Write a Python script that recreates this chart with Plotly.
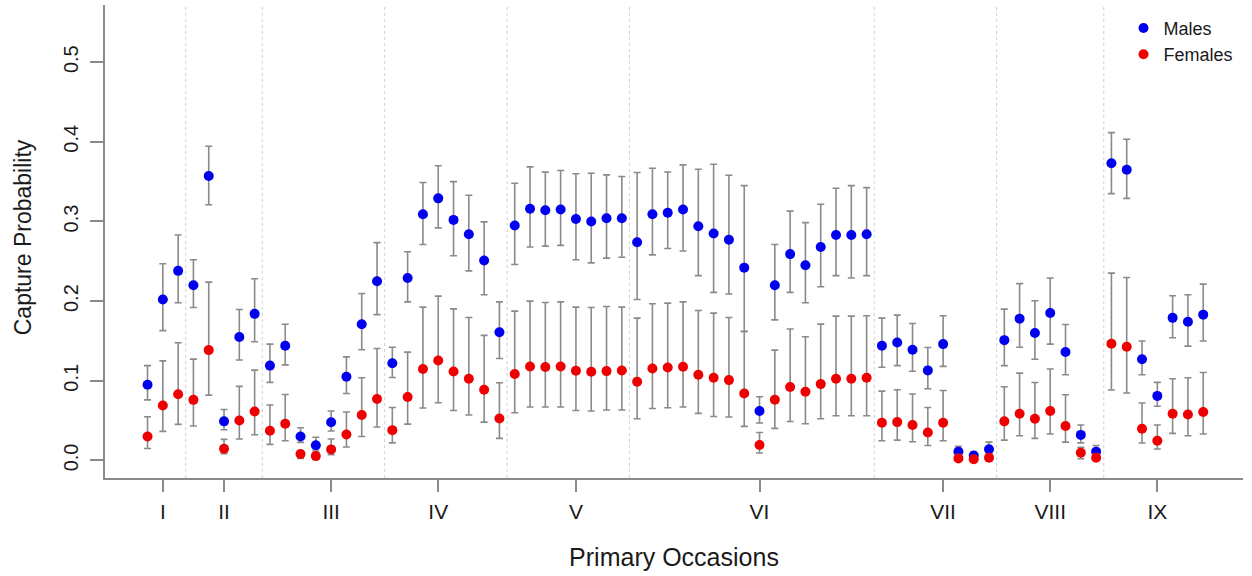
import numpy as np
import plotly.graph_objects as go

# ---- data ----
group_labels = ["I", "II", "III", "IV", "V", "VI", "VII", "VIII", "IX"]
group_sizes = [3, 5, 8, 8, 8, 16, 8, 7, 7]
tick_at = [2, 6, 13, 20, 29, 41, 53, 60, 67]   # secondary occasion index under each label

male = [0.095, 0.202, 0.238,
        0.220, 0.357, 0.049, 0.155, 0.184,
        0.119, 0.144, 0.030, 0.019, 0.048, 0.105, 0.171, 0.225,
        0.122, 0.229, 0.309, 0.329, 0.302, 0.284, 0.251, 0.161,
        0.295, 0.316, 0.314, 0.315, 0.303, 0.300, 0.304, 0.304,
        0.274, 0.309, 0.311, 0.315, 0.294, 0.285, 0.277, 0.242, 0.062, 0.220, 0.259, 0.245, 0.268, 0.283, 0.283, 0.284,
        0.144, 0.148, 0.139, 0.113, 0.146, 0.011, 0.006, 0.014,
        0.151, 0.178, 0.160, 0.185, 0.136, 0.032, 0.011,
        0.373, 0.365, 0.127, 0.081, 0.179, 0.174, 0.183]
male_lo = [0.076, 0.163, 0.198,
           0.192, 0.321, 0.0385, 0.126, 0.149,
           0.098, 0.120, 0.0226, 0.013, 0.037, 0.084, 0.139, 0.183,
           0.104, 0.199, 0.271, 0.292, 0.257, 0.238, 0.208, 0.128,
           0.246, 0.268, 0.269, 0.270, 0.252, 0.248, 0.254, 0.255,
           0.202, 0.258, 0.266, 0.263, 0.232, 0.211, 0.209, 0.162, 0.047, 0.1765, 0.211, 0.198, 0.218, 0.232, 0.229, 0.232,
           0.117, 0.119, 0.112, 0.090, 0.118, 0.006, 0.003, 0.0084,
           0.119, 0.142, 0.127, 0.146, 0.1075, 0.022, 0.006,
           0.335, 0.329, 0.1075, 0.068, 0.154, 0.1435, 0.150]
male_hi = [0.119, 0.247, 0.283,
           0.252, 0.3945, 0.064, 0.1895, 0.228,
           0.146, 0.171, 0.041, 0.029, 0.062, 0.130, 0.2095, 0.2735,
           0.142, 0.262, 0.349, 0.370, 0.350, 0.333, 0.2995, 0.199,
           0.348, 0.3685, 0.362, 0.364, 0.360, 0.3606, 0.3585, 0.3564,
           0.3614, 0.3669, 0.3622, 0.371, 0.3656, 0.3719, 0.3581, 0.345, 0.080, 0.271, 0.313, 0.2986, 0.3217, 0.3418, 0.345, 0.3425,
           0.1787, 0.1824, 0.1719, 0.1418, 0.1816, 0.0176, 0.0105, 0.023,
           0.190, 0.222, 0.2004, 0.229, 0.1707, 0.0444, 0.0188,
           0.4115, 0.4033, 0.150, 0.098, 0.2067, 0.2079, 0.2213]

female = [0.030, 0.069, 0.083,
          0.076, 0.1385, 0.0147, 0.050, 0.0615,
          0.0373, 0.046, 0.008, 0.0055, 0.0138, 0.0326, 0.057, 0.077,
          0.038, 0.0795, 0.1147, 0.1255, 0.1117, 0.1025, 0.0887, 0.0527,
          0.1084, 0.118, 0.1172, 0.118, 0.1125, 0.1113, 0.1121, 0.1129,
          0.0987, 0.1154, 0.1167, 0.1176, 0.1075, 0.1038, 0.1008, 0.0841, 0.0193, 0.0762, 0.0921, 0.0862, 0.0958, 0.1025, 0.1025, 0.1038,
          0.0473, 0.0481, 0.0444, 0.0351, 0.0473, 0.0025, 0.0015, 0.0034,
          0.049, 0.0586, 0.0523, 0.062, 0.0431, 0.0096, 0.0034,
          0.1464, 0.1427, 0.0398, 0.0247, 0.0586, 0.0577, 0.0607]
female_lo = [0.015, 0.0364, 0.0452,
             0.0431, 0.082, 0.0084, 0.0268, 0.0322,
             0.0201, 0.0247, 0.0025, 0.001, 0.0072, 0.0168, 0.0301, 0.0419,
             0.022, 0.0456, 0.0657, 0.0724, 0.0627, 0.057, 0.0481, 0.0276,
             0.0598, 0.067, 0.067, 0.067, 0.0627, 0.062, 0.0632, 0.0632,
             0.0523, 0.0652, 0.0661, 0.067, 0.059, 0.0552, 0.0544, 0.0427, 0.0093, 0.0402, 0.0489, 0.046, 0.0523, 0.056, 0.056, 0.056,
             0.0247, 0.0255, 0.0234, 0.0188, 0.0247, 0.0008, 0.0004, 0.001,
             0.0255, 0.031, 0.0276, 0.0331, 0.023, 0.0021, 0.001,
             0.0883, 0.0846, 0.0218, 0.0143, 0.0339, 0.031, 0.0331]
female_hi = [0.0548, 0.125, 0.1477,
             0.1272, 0.2238, 0.0264, 0.0929, 0.1134,
             0.0695, 0.0828, 0.012, 0.0104, 0.0268, 0.0607, 0.1038, 0.1405,
             0.0665, 0.136, 0.1925, 0.2063, 0.1903, 0.1794, 0.157, 0.0975,
             0.1874, 0.200, 0.1983, 0.1991, 0.1925, 0.192, 0.1932, 0.1925,
             0.1787, 0.1966, 0.1975, 0.1991, 0.1882, 0.1849, 0.1794, 0.1619, 0.0351, 0.1385, 0.1649, 0.1552, 0.1711, 0.1812, 0.1812, 0.1816,
             0.087, 0.0887, 0.0833, 0.0665, 0.0878, 0.0075, 0.005, 0.0084,
             0.0925, 0.1096, 0.0979, 0.1147, 0.0824, 0.0163, 0.0084,
             0.2351, 0.2296, 0.072, 0.0444, 0.1025, 0.1038, 0.1104]

# ---- figure ----
n = len(male)
x = np.arange(1, n + 1)
m, f = np.array(male), np.array(female)
FONT = "Liberation Sans, Arial, Helvetica, sans-serif"
TXT = "#1a1a1a"
GREY = "#8a8a8a"

fig = go.Figure()
fig.add_trace(go.Scatter(
    x=x, y=m, mode="markers", name="Males",
    marker=dict(color="#0000ee", size=10),
    error_y=dict(type="data", symmetric=False,
                 array=np.array(male_hi) - m, arrayminus=m - np.array(male_lo),
                 color=GREY, thickness=1.6, width=3.5)))
fig.add_trace(go.Scatter(
    x=x, y=f, mode="markers", name="Females",
    marker=dict(color="#ee0000", size=10),
    error_y=dict(type="data", symmetric=False,
                 array=np.array(female_hi) - f, arrayminus=f - np.array(female_lo),
                 color=GREY, thickness=1.6, width=3.5)))

# dotted dividers between primary occasions
bounds = np.cumsum(group_sizes)[:-1] + 0.5
for b in bounds:
    fig.add_shape(type="line", xref="x", yref="paper", x0=b, x1=b, y0=0, y1=1,
                  line=dict(color="#cfcfcf", width=1, dash="dot"), layer="below")

fig.update_layout(
    width=1252, height=576,
    margin=dict(l=105, r=9, t=5, b=98),
    paper_bgcolor="white", plot_bgcolor="white",
    font=dict(family=FONT, color=TXT),
    showlegend=True,
    legend=dict(x=0.895, y=0.99, xanchor="left", yanchor="top",
                font=dict(size=18, color=TXT), bgcolor="rgba(0,0,0,0)",
                tracegroupgap=0, itemwidth=30),
    xaxis=dict(range=[-1.78, 72.6], showgrid=False, zeroline=False, automargin=False,
               showline=True, linecolor=GREY, linewidth=1.5,
               ticks="outside", ticklen=12, tickcolor=GREY, tickwidth=1.5,
               tickvals=tick_at, ticktext=group_labels,
               tickfont=dict(size=21, color=TXT), ticklabelstandoff=2,
               title=dict(text="Primary Occasions", font=dict(size=25, color=TXT), standoff=27)),
    yaxis=dict(range=[-0.0221, 0.5718], showgrid=False, zeroline=False, automargin=False,
               showline=True, linecolor=GREY, linewidth=1.5,
               ticks="outside", ticklen=13, tickcolor=GREY, tickwidth=1.5,
               tickvals=[0, 0.1, 0.2, 0.3, 0.4, 0.5], tickformat=".1f", tickangle=-90,
               tickfont=dict(size=20, color=TXT), ticklabelstandoff=4),
    annotations=[dict(text="Capture Probability", xref="paper", yref="paper",
                      x=-0.0725, y=0.51, xanchor="center", yanchor="middle",
                      textangle=-90, showarrow=False,
                      font=dict(size=23, color=TXT))],
)

fig.write_html("out.html", config={"displayModeBar": False},
               post_script="document.body.style.margin='0';")
